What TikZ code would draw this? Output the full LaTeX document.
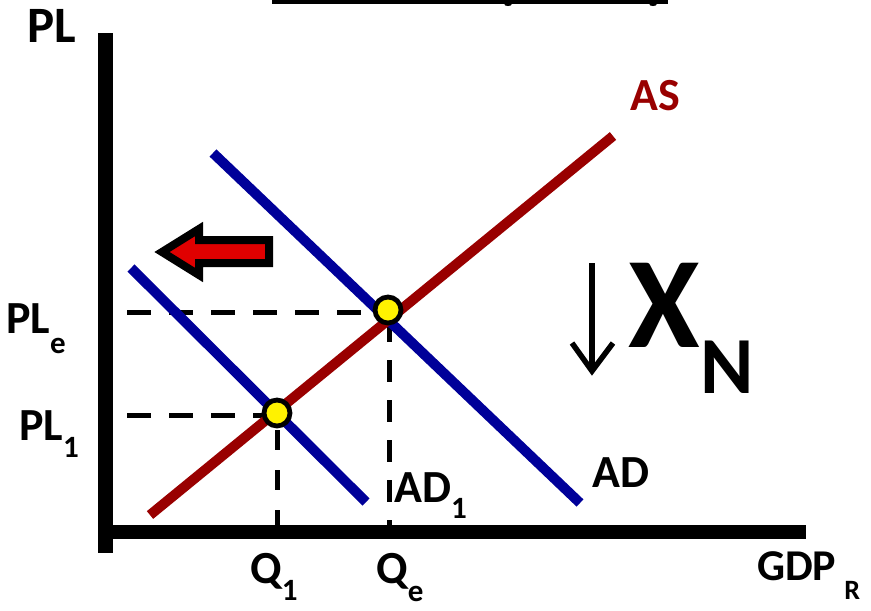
\documentclass[tikz,border=0pt]{standalone}
\usepackage{fontspec}
\setmainfont{Carlito}
\definecolor{asred}{HTML}{990000}
\definecolor{adblue}{HTML}{000099}
\definecolor{arrred}{HTML}{E00000}
\newcommand{\mainsz}{\fontsize{46}{46}\selectfont}
\newcommand{\subsz}{\fontsize{31}{31}\selectfont}
\newcommand{\lbl}[3]{{\mainsz #1}\raisebox{-#3pt}{\subsz #2}}
\begin{document}
\begin{tikzpicture}[x=1pt,y=-1pt,
  lab/.style={inner sep=0pt,anchor=base west,font=\bfseries\mainsz},
  axisline/.style={line width=15pt,black},
  curve/.style={line width=10pt},
  guide/.style={line width=5pt,dash pattern=on 24pt off 18pt},
  vguide/.style={line width=5pt},
  dot/.style={circle,draw=black,line width=4.8pt,fill=yellow,minimum size=26pt,inner sep=0pt}]
\useasboundingbox (0,0) rectangle (871,611);
% cropped title underline
\fill[black] (272,0) rectangle (668,4);
\fill[black] (508,4.5) ellipse (3.5pt and 1.5pt);
\fill[black] (653,4.5) ellipse (3.5pt and 1.5pt);
% axes
\coordinate (ytop) at (105.5,33);
\coordinate (ybot) at (105.5,553);
\coordinate (xl) at (98,532);
\coordinate (xr) at (806,532);
\draw[axisline] (ytop) -- (ybot);
\draw[axisline,line width=14pt] (xl) -- (xr);
% equilibrium points
\coordinate (E) at (388,310);
\coordinate (E1) at (277,413);
\coordinate (PLeL) at (127,312);
\coordinate (PL1L) at (127,415);
\coordinate (QeB) at (389,527);
\coordinate (Q1B) at (277,525);
\coordinate (E1h) at (277,415);
\coordinate (Eh) at (388,312);
\coordinate (Ev) at (389,310);
% dashed guides
\draw[guide] (PLeL) -- (Eh);
\draw[guide] (PL1L) -- (E1h);
\draw[vguide,dash pattern=on 22pt off 18pt,dash phase=30pt] (Ev) -- (QeB);
\draw[vguide,dash pattern=on 20pt off 20pt,dash phase=23pt] (E1) -- (Q1B);
% curves
\coordinate (ADa) at (213,153);
\coordinate (ADb) at (580,503);
\coordinate (AD1a) at (131,268);
\coordinate (AD1b) at (366,502);
\coordinate (ASa) at (150,515);
\coordinate (ASb) at (613,136);
\draw[curve,adblue] (ADa) -- (ADb);
\draw[curve,adblue] (AD1a) -- (AD1b);
\draw[curve,asred] (ASa) -- (ASb);
% dots
\node[dot] (dotE) at (E) {};
\node[dot] (dotE1) at (E1) {};
% shift arrow
\draw[line width=8pt,fill=arrred,miter limit=10] (162,252) -- (199,229) -- (199,240) -- (269,240) -- (269,263) -- (199,263) -- (199,275) -- cycle;
% down arrow
\coordinate (dnTop) at (592,263);
\coordinate (dnTip) at (592,371);
\draw[line width=5.5pt] (dnTop) -- (dnTip);
\draw[line width=5.5pt,line join=miter] (572,343) -- (dnTip) -- (613,343);
% labels
\node[lab,font=\bfseries\fontsize{51}{51}\selectfont] (PLtop) at (27,42) {PL};
\node[lab] (PLe) at (6,333) {\lbl{PL}{e}{20}};
\node[lab] (PL1) at (19,440) {\lbl{PL}{1}{17}};
\node[lab,text=asred] (AS) at (630,110) {AS};
\node[lab] (AD) at (592,487) {AD};
\node[lab] (AD1) at (394,502) {\lbl{AD}{1}{16}};
\node[lab] (Q1) at (250,583) {\lbl{Q}{1}{17}};
\node[lab] (Qe) at (376,583) {\lbl{Q}{e}{18}};
\node[lab,font=\bfseries\fontsize{44}{44}\selectfont] (GDP) at (757,580) {GDP\hspace{8pt}\raisebox{-19pt}{\fontsize{28}{28}\selectfont R}};
\node[lab,font=\bfseries\fontsize{130}{130}\selectfont] (X) at (628,347) {X};
\node[lab,font=\bfseries\fontsize{81}{81}\selectfont] (N) at (700,393) {N};
\end{tikzpicture}
\end{document}
